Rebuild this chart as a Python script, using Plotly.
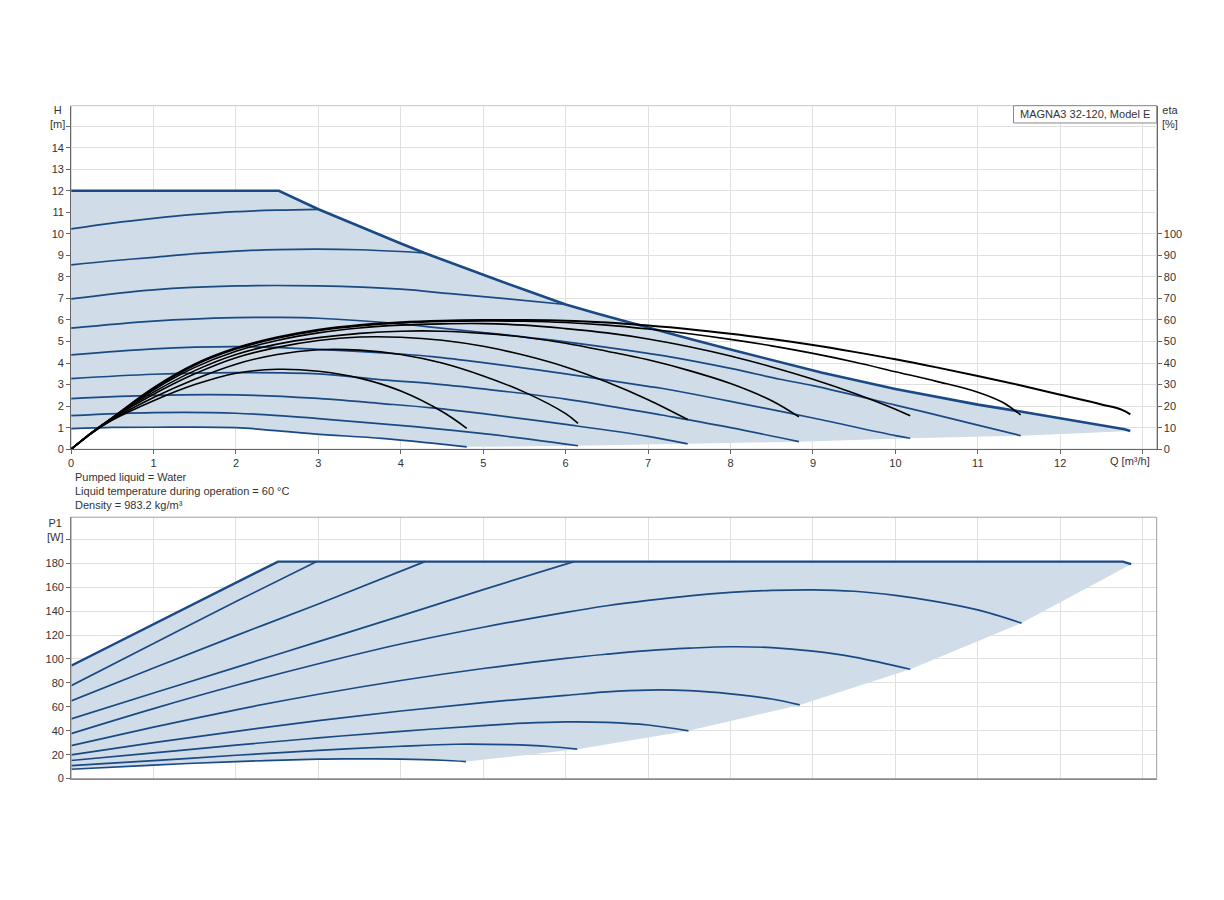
import plotly.graph_objects as go

# ---------------- H-Q chart (Q [m3/h], H [m]) ----------------
q_hmax = [0, 2.52, 3.0, 3.5, 4.0, 4.28, 4.62, 5.0, 5.5, 6.0, 6.4, 6.8, 7.5, 8.0, 8.61, 9.1,
          10.0, 10.5, 11.0, 11.5, 12.0, 12.5, 12.78, 12.85]
h_hmax = [12, 12, 11.14, 10.33, 9.55, 9.12, 8.63, 8.1, 7.4, 6.72, 6.28, 5.85, 5.13, 4.63, 4.02, 3.56,
          2.8, 2.42, 2.07, 1.76, 1.44, 1.13, 0.93, 0.85]

q_h1 = [0, 0.5, 1, 1.5, 2, 2.5, 3.0]
h_h1 = [10.23, 10.5, 10.72, 10.9, 11.03, 11.1, 11.14]
q_h2 = [0, 0.5, 1, 1.5, 2, 2.5, 3, 3.5, 4, 4.28]
h_h2 = [8.56, 8.75, 8.91, 9.08, 9.2, 9.27, 9.29, 9.26, 9.18, 9.12]
q_h3 = [0, 1, 2, 3, 4, 4.6, 5.3, 6.0]
h_h3 = [6.98, 7.4, 7.58, 7.58, 7.43, 7.22, 6.98, 6.72]
q_h4 = [0, 1, 2, 2.5, 3, 4, 4.4, 5, 6, 7, 7.2, 8, 8.6, 9, 10, 11, 11.52]
h_h4 = [5.62, 5.95, 6.11, 6.12, 6.08, 5.82, 5.66, 5.42, 4.98, 4.45, 4.33, 3.75, 3.25, 2.95, 2.05, 1.12, 0.63]
q_h5 = [0, 1, 2, 3, 4, 4.38, 5, 6, 7, 7.16, 8, 9, 10, 10.18]
h_h5 = [4.38, 4.66, 4.76, 4.64, 4.42, 4.3, 4.02, 3.5, 2.92, 2.83, 2.22, 1.45, 0.63, 0.51]
q_h6 = [0, 1, 2, 3, 3.77, 4.38, 5, 6, 7, 7.16, 8, 8.83]
h_h6 = [3.28, 3.48, 3.56, 3.5, 3.22, 3.05, 2.8, 2.33, 1.7, 1.59, 1.0, 0.35]
q_h7 = [0, 1, 2, 2.94, 3.77, 4.38, 5, 6, 7, 7.48]
h_h7 = [2.35, 2.5, 2.52, 2.37, 2.12, 1.92, 1.65, 1.15, 0.6, 0.25]
q_h8 = [0, 1, 2, 2.94, 3.77, 4.38, 5, 5.6, 6.15]
h_h8 = [1.56, 1.7, 1.67, 1.44, 1.18, 0.97, 0.72, 0.45, 0.16]
q_h9 = [0, 0.5, 1, 2, 2.94, 3.77, 4.38, 4.8]
h_h9 = [0.96, 1.01, 1.02, 1.0, 0.71, 0.5, 0.28, 0.11]

q_hmin = [4.8, 6.15, 7.48, 8.83, 10.18, 11.52, 12.85]
h_hmin = [0.11, 0.16, 0.25, 0.35, 0.51, 0.63, 0.85]

# efficiency curves, eta [%]
q_ea = [0, 0.25, 0.5, 1, 1.5, 2, 2.5, 3, 3.5, 4, 4.5, 4.8]
e_ea = [0, 7.5, 13.5, 22.5, 30, 35.3, 37.1, 36.2, 33, 27, 17.5, 9.7]
q_eb = [0, 0.25, 0.5, 1, 1.5, 2, 2.5, 3, 3.5, 4, 4.5, 5, 5.5, 6, 6.15]
e_eb = [0, 7.6, 13.8, 24, 32.5, 39.5, 44, 46.2, 46, 44, 40, 34, 26.5, 16.5, 12]
q_ec = [0, 0.25, 0.5, 1, 1.5, 2, 2.5, 3, 3.5, 4, 4.5, 5, 5.5, 6, 6.5, 7, 7.48]
e_ec = [0, 7.7, 14.3, 25.5, 35, 42.5, 47.3, 50.5, 52.1, 52, 50.6, 47.8, 43.6, 38.2, 31.2, 23, 13.8]
q_ed = [0, 0.25, 0.5, 1, 1.5, 2, 2.5, 3, 3.5, 4, 4.5, 5, 5.5, 6, 6.5, 7, 7.5, 8, 8.5, 8.83]
e_ed = [0, 7.8, 14.5, 26.5, 36.5, 44, 48.8, 51.8, 53.8, 54.8, 54.8, 53.8, 52, 49.2, 45.5, 41.5, 36.5,
        30.5, 22.5, 15]
q_ee = [0, 0.25, 0.5, 1, 1.5, 2, 2.5, 3, 3.5, 4, 4.5, 5, 5.5, 6, 6.5, 7, 7.5, 8, 8.5, 9, 9.5, 10, 10.18]
e_ee = [0, 7.7, 14.6, 27.5, 38, 45.5, 50.5, 54, 56.3, 57.6, 58.2, 58.3, 57.6, 56, 54, 51.2, 47.6, 43.3,
        38.2, 32.5, 26, 18.6, 15.5]
q_ef = [0, 0.25, 0.5, 1, 1.5, 2, 2.5, 3, 3.5, 4, 4.5, 5, 5.5, 6, 6.5, 7, 7.5, 8, 8.5, 9, 9.5, 10,
        10.5, 11, 11.3, 11.52]
e_ef = [0, 7.6, 14.6, 28, 39, 46.5, 51.5, 55, 57.2, 58.6, 59.3, 59.5, 59.4, 58.8, 57.6, 55.8, 53.6, 51,
        48, 44.5, 40.5, 36, 31.5, 26.5, 21.8, 15.9]
q_eg = [0, 0.25, 0.5, 1, 1.5, 2, 2.5, 3, 3.5, 4, 4.5, 5, 5.5, 6, 6.5, 7, 7.5, 8, 8.5, 9, 9.5, 10,
        10.5, 11, 11.5, 12, 12.5, 12.75, 12.85]
e_eg = [0, 7.5, 14.6, 28.5, 39.5, 47, 52, 55.5, 57.7, 59, 59.7, 60, 60, 59.7, 58.8, 57.4, 55.7, 53.6,
        51.2, 48.4, 45.2, 41.8, 38, 34, 29.8, 25.3, 20.8, 18.3, 16.2]

# ---------------- P1-Q chart (P1 [W]) ----------------
q_pmax = [0, 2.51, 12.76, 12.86]
p_pmax = [94.4, 181.4, 181.4, 179.2]
q_p1 = [0, 1, 2, 2.98]
p_p1 = [77.7, 113, 148, 181.4]
q_p2 = [0, 1, 2, 3, 4.29]
p_p2 = [64.9, 92.5, 119.5, 146, 181.4]
q_p3 = [0, 1, 2, 3, 4, 5, 6.1]
p_p3 = [49.9, 71.5, 93, 114.5, 136, 158, 181.4]
q_p4 = [0, 1, 2, 3, 4, 5, 6, 6.5, 7, 7.5, 8, 8.5, 9, 9.5, 10, 10.5, 11, 11.53]
p_p4 = [37.6, 58.5, 78, 96, 112.5, 126.5, 139, 144.5, 149, 152.8, 155.6, 157.3, 157.8, 156.6, 153.2,
        148, 141, 130]
q_p5 = [0, 1, 2, 3, 4, 5, 6, 6.5, 7, 7.5, 8, 8.5, 9, 9.5, 10.18]
p_p5 = [27.6, 43, 57.5, 70.5, 82, 92, 100.5, 104, 107, 109, 110.2, 109.5, 106.5, 101.5, 91.4]
q_p6 = [0, 1, 2, 3, 4, 5, 6, 6.5, 7, 7.5, 8, 8.5, 8.84]
p_p6 = [19.8, 30, 39.5, 48.5, 56.5, 63.5, 69.5, 72.5, 74, 73.5, 70.8, 66.5, 61.6]
q_p7 = [0, 1, 2, 3, 4, 5, 5.5, 6, 6.5, 7, 7.49]
p_p7 = [15.1, 21.5, 28, 34, 39.5, 44.3, 46.3, 47.4, 47, 44.8, 39.9]
q_p8 = [0, 1, 2, 3, 4, 4.67, 5.3, 5.8, 6.14]
p_p8 = [10.9, 15, 19.5, 23.5, 27, 28.7, 28.3, 26.8, 24.6]
q_p9 = [0, 1, 2, 3, 3.3, 4, 4.5, 4.79]
p_p9 = [7.8, 11.3, 14.2, 16.2, 16.5, 16.2, 15.3, 14.2]
q_pmin = [4.79, 6.14, 7.49, 8.84, 10.18, 11.53, 12.86]
p_pmin = [14.2, 24.6, 39.9, 61.6, 91.4, 130, 179.2]

BLUE = "#1a4a84"
FILL = "#d0dce8"
GRID = "#e0e0e0"
AXIS = "#666666"
FONT = dict(family="Liberation Sans, Arial, sans-serif", size=11, color="#333333")

W, H = 1224, 900
YS = 1 / 0.9935          # screenshot comes out a touch shorter vertically
px_l, px_r = 68.3, 1156.5
top_y0, top_y1 = 449.3, 105.7
bot_y0, bot_y1 = 778.7, 517.3


def yp(py):
    return 1 - py * YS / H


fig = go.Figure()

# shaded working area, H chart
fill_q = q_hmax + q_hmin[::-1] + q_h9[::-1]
fill_h = h_hmax + h_hmin[::-1] + h_h9[::-1]
fig.add_trace(go.Scatter(x=fill_q, y=fill_h, fill="toself", fillcolor=FILL, mode="none",
                         hoverinfo="skip", xaxis="x", yaxis="y"))

fig.add_trace(go.Scatter(x=q_hmax, y=h_hmax, mode="lines", line=dict(color=BLUE, width=2.6),
                         xaxis="x", yaxis="y"))
for qq, hh in [(q_h1, h_h1), (q_h2, h_h2), (q_h3, h_h3), (q_h4, h_h4), (q_h5, h_h5),
               (q_h6, h_h6), (q_h7, h_h7), (q_h8, h_h8), (q_h9, h_h9)]:
    fig.add_trace(go.Scatter(x=qq, y=hh, mode="lines", line=dict(color=BLUE, width=1.7, shape="spline"),
                             xaxis="x", yaxis="y"))

for qq, ee, w in [(q_ea, e_ea, 1.6), (q_eb, e_eb, 1.6), (q_ec, e_ec, 1.6), (q_ed, e_ed, 1.6),
                  (q_ee, e_ee, 1.6), (q_ef, e_ef, 1.6), (q_eg, e_eg, 2.0)]:
    fig.add_trace(go.Scatter(x=qq, y=ee, mode="lines", line=dict(color="black", width=w, shape="spline"),
                             xaxis="x", yaxis="y2"))

# shaded area, P1 chart
pfill_q = q_pmax + q_pmin[::-1] + q_p9[::-1]
pfill_p = p_pmax + p_pmin[::-1] + p_p9[::-1]
fig.add_trace(go.Scatter(x=pfill_q, y=pfill_p, fill="toself", fillcolor=FILL, mode="none",
                         hoverinfo="skip", xaxis="x2", yaxis="y3"))
fig.add_trace(go.Scatter(x=q_pmax, y=p_pmax, mode="lines", line=dict(color=BLUE, width=2.4),
                         xaxis="x2", yaxis="y3"))
for qq, pp in [(q_p1, p_p1), (q_p2, p_p2), (q_p3, p_p3), (q_p4, p_p4), (q_p5, p_p5),
               (q_p6, p_p6), (q_p7, p_p7), (q_p8, p_p8), (q_p9, p_p9)]:
    fig.add_trace(go.Scatter(x=qq, y=pp, mode="lines", line=dict(color=BLUE, width=1.7, shape="spline"),
                             xaxis="x2", yaxis="y3"))

xdom = [px_l / W, px_r / W]
common = dict(showgrid=True, gridcolor=GRID, gridwidth=1, zeroline=False, tickfont=FONT,
              ticks="outside", ticklen=4, tickcolor=AXIS, showline=True, linecolor=AXIS, linewidth=1)

fig.update_layout(
    width=W, height=H, margin=dict(l=0, r=0, t=0, b=0),
    paper_bgcolor="white", plot_bgcolor="white", showlegend=False, font=FONT,
    xaxis=dict(domain=xdom, anchor="y", range=[0, 13.17], tickvals=list(range(14)),
               ticktext=[str(i) for i in range(13)] + [""], **common),
    yaxis=dict(domain=[yp(top_y0), yp(top_y1)], anchor="x", range=[0, 15.95],
               tickvals=list(range(16)), ticktext=[str(i) for i in range(15)] + [""], **common),
    yaxis2=dict(overlaying="y", side="right", anchor="x", range=[0, 159.5],
                tickvals=list(range(0, 110, 10)), showgrid=False, zeroline=False, tickfont=FONT,
                ticks="outside", ticklen=4, tickcolor=AXIS, showline=True, linecolor=AXIS),
    xaxis2=dict(domain=xdom, anchor="y3", range=[0, 13.17], tickvals=list(range(14)),
                showticklabels=False, showgrid=True, gridcolor=GRID, zeroline=False, ticks="",
                showline=True, linecolor="#888888"),
    yaxis3=dict(domain=[yp(bot_y0), yp(bot_y1)], anchor="x2", range=[0, 218.5],
                tickvals=list(range(0, 220, 20)), ticktext=[str(v) for v in range(0, 200, 20)] + [""],
                **common),
)

# plot frames
fig.add_shape(type="rect", xref="x domain", yref="y domain", x0=0, x1=1, y0=0, y1=1,
              line=dict(color="#c4c4c4", width=1), layer="below")
fig.add_shape(type="rect", xref="x2 domain", yref="y3 domain", x0=0, x1=1, y0=0, y1=1,
              line=dict(color="#a0a0a0", width=1), layer="above")

# model label box
fig.add_shape(type="rect", xref="paper", yref="paper", x0=1013 / W, x1=px_r / W,
              y0=yp(123), y1=yp(top_y1), line=dict(color="#888888", width=1),
              fillcolor="white", layer="above")


def note(text, x, y, xanchor="left", align="left"):
    fig.add_annotation(text=text, x=x / W, y=yp(y), xref="paper", yref="paper",
                       xanchor=xanchor, yanchor="middle", align=align, showarrow=False, font=FONT)


note("MAGNA3 32-120, Model E", 1017, 114)
note("H<br>[m]", 55, 117, "center", "center")
note("eta<br>[%]", 1170, 117, "center", "center")
note("Q [m³/h]", 1130, 461, "center", "center")
note("P1<br>[W]", 53, 530, "center", "center")
note("Pumped liquid = Water", 70, 477)
note("Liquid temperature during operation = 60 °C", 70, 491)
note("Density = 983.2 kg/m³", 70, 505)

# page body margin off so the figure sits at the window origin
fig.write_html("out.html", config={"displayModeBar": False},
               post_script="document.body.style.margin='0px';")
